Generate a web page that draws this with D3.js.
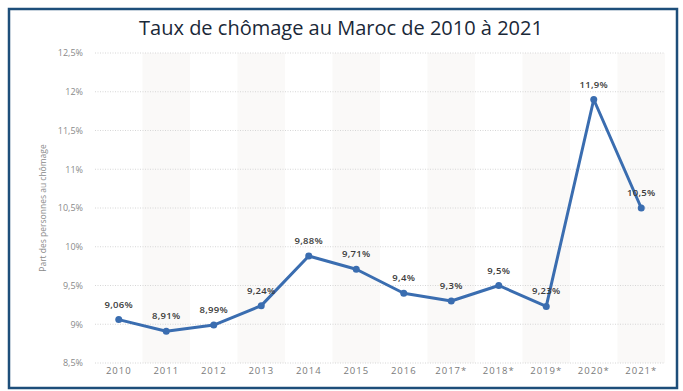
<!DOCTYPE html>
<html><head><meta charset="utf-8">
<script src="https://cdn.jsdelivr.net/npm/d3@7"></script>
<style>body{margin:0;background:#fff;}svg{display:block;}</style>
</head><body>
<svg id="c" width="683" height="391"></svg>
<script>
const categories = ["2010","2011","2012","2013","2014","2015","2016","2017*","2018*","2019*","2020*","2021*"];
const values = [9.06, 8.91, 8.99, 9.24, 9.88, 9.71, 9.4, 9.3, 9.5, 9.23, 11.9, 10.5];
const valueLabels = ["9,06%","8,91%","8,99%","9,24%","9,88%","9,71%","9,4%","9,3%","9,5%","9,23%","11,9%","10,5%"];
const yTicks = [8.5, 9, 9.5, 10, 10.5, 11, 11.5, 12, 12.5];
const yTickLabels = ["8,5%","9%","9,5%","10%","10,5%","11%","11,5%","12%","12,5%"];
const title = "Taux de chômage au Maroc de 2010 à 2021";
const yTitle = "Part des personnes au chômage";

const svg = d3.select("#c");
const font = "'Open Sans', 'Noto Sans', sans-serif";
// frame
svg.append("rect").attr("x",9).attr("y",9).attr("width",668).attr("height",379)
  .attr("fill","none").attr("stroke","#1d4e7a").attr("stroke-width",2.5);

const x = d3.scaleBand().domain(categories).range([95,665]);
const y = d3.scaleLinear().domain([8.5,12.5]).range([363,53]);

// alternating bands
svg.append("g").selectAll("rect").data(categories.filter((d,i)=>i%2===1)).join("rect")
  .attr("x",d=>x(d)).attr("width",x.bandwidth()).attr("y",y(12.5)).attr("height",y(8.5)-y(12.5))
  .attr("fill","#faf9f8");

// grid
svg.append("g").selectAll("line").data(yTicks).join("line")
  .attr("x1",95).attr("x2",665).attr("y1",d=>y(d)).attr("y2",d=>y(d))
  .attr("stroke","#d6d6d6").attr("stroke-width",1).attr("stroke-dasharray","1,1.5");

// y axis
const yAxis = d3.axisLeft(y).tickValues(yTicks).tickFormat((d,i)=>yTickLabels[i]).tickSize(0).tickPadding(0);
const yg = svg.append("g").attr("transform","translate(83,0)").call(yAxis);
yg.select(".domain").remove();
yg.selectAll("text").attr("font-family",font).attr("font-size",9).attr("fill","#8a8a8a");

// x axis
const xAxis = d3.axisBottom(x).tickSize(0).tickPadding(0);
const xg = svg.append("g").attr("transform","translate(0,371)").call(xAxis);
xg.select(".domain").remove();
xg.selectAll("text").attr("font-family",font).attr("font-size",9.5).attr("fill","#7a7a7a")
  .attr("letter-spacing","1px").attr("dy","0.35em");

// title
svg.append("text").attr("x",341).attr("y",35).attr("text-anchor","middle")
  .attr("font-family",font).attr("font-size",20).attr("fill","#1a2838").text(title);

// y title
svg.append("text").attr("transform","translate(46,208) rotate(-90)").attr("text-anchor","middle")
  .attr("font-family",font).attr("font-size",8.5).attr("fill","#8a8a8a").text(yTitle);

const cx = d=>x(d)+x.bandwidth()/2;
const data = categories.map((c,i)=>({c,v:values[i],l:valueLabels[i]}));
svg.append("path").datum(data)
  .attr("d",d3.line().x(d=>cx(d.c)).y(d=>y(d.v)))
  .attr("fill","none").attr("stroke","#3a6db0").attr("stroke-width",3).attr("stroke-linejoin","round");
svg.append("g").selectAll("circle").data(data).join("circle")
  .attr("cx",d=>cx(d.c)).attr("cy",d=>y(d.v)).attr("r",3.5).attr("fill","#3a6db0");
svg.append("g").selectAll("text").data(data).join("text")
  .attr("x",d=>cx(d.c)).attr("y",d=>y(d.v)-12).attr("text-anchor","middle")
  .attr("font-family",font).attr("font-size",9.5).attr("font-weight",600).attr("fill","#3c3c3c")
  .attr("letter-spacing","0.3px").text(d=>d.l);
</script>
</body></html>
